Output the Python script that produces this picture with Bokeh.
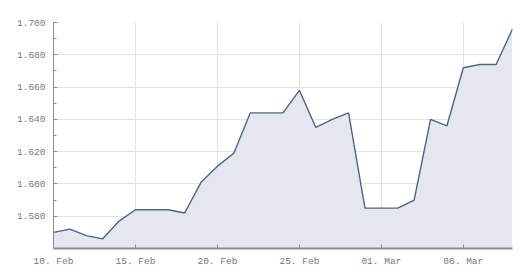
import pandas as pd
from bokeh.plotting import figure
from bokeh.models import FixedTicker, DatetimeTickFormatter, NumeralTickFormatter, Range1d
from bokeh.embed import file_html
from bokeh.resources import INLINE

# Daily closing rate, 10 Feb - 09 Mar 2012
dates = pd.date_range("2012-02-10", "2012-03-09", freq="D")
rates = [1.570, 1.572, 1.568, 1.566, 1.577, 1.584, 1.584, 1.584, 1.582, 1.601,
         1.611, 1.619, 1.644, 1.644, 1.644, 1.658, 1.635, 1.640, 1.644, 1.585,
         1.585, 1.585, 1.590, 1.640, 1.636, 1.672, 1.674, 1.674, 1.696]

tick_dates = ["2012-02-10", "2012-02-15", "2012-02-20", "2012-02-25", "2012-03-01", "2012-03-06"]
y_ticks = [1.580, 1.600, 1.620, 1.640, 1.660, 1.680, 1.700]
y_min, y_max = 1.560, 1.700

label_font = "Liberation Mono"
grid_color = "#e3e3e3"
axis_color = "#8c8c8c"

p = figure(width=524, height=277, x_axis_type="datetime",
           output_backend="svg", toolbar_location=None,
           min_border_left=53, min_border_right=12, min_border_top=22, min_border_bottom=29)
p.outline_line_color = None
p.background_fill_color = "white"

p.x_range = Range1d(dates[0], dates[-1])
p.y_range = Range1d(y_min, y_max)

p.varea(x=dates, y1=y_min, y2=rates, fill_color="#e4e8ee", fill_alpha=1.0)
p.line(x=dates, y=rates, line_color="#4a6585", line_width=1.4)

tick_ms = [pd.Timestamp(d).value / 1e6 for d in tick_dates]
p.xaxis.ticker = FixedTicker(ticks=tick_ms)
fmt = "%d. %b"
p.xaxis.formatter = DatetimeTickFormatter(days=fmt, months=fmt, hours=fmt, years=fmt)
p.yaxis.ticker = FixedTicker(ticks=y_ticks,
                             minor_ticks=[round(1.560 + 0.01 * i, 3) for i in range(15)])
p.yaxis.formatter = NumeralTickFormatter(format="0.000")

for ax in (p.xaxis, p.yaxis):
    ax.major_label_text_font = label_font
    ax.major_label_text_font_size = "9.5px"
    ax.major_label_text_color = "#777777"
    ax.major_tick_out = 0
    ax.major_tick_in = 4
    ax.minor_tick_out = 0
    ax.axis_line_color = axis_color
    ax.major_tick_line_color = axis_color

p.yaxis.minor_tick_in = 3
p.yaxis.minor_tick_line_color = axis_color
p.xaxis.minor_tick_line_color = None
p.xaxis.axis_line_width = 2
p.yaxis.axis_line_width = 1
p.xaxis.major_label_standoff = 7
p.yaxis.major_label_standoff = 8

p.xgrid.grid_line_color = grid_color
p.ygrid.grid_line_color = grid_color
p.xgrid.ticker = p.xaxis.ticker
p.ygrid.ticker = FixedTicker(ticks=y_ticks)

open("out.html", "w").write(file_html(p, INLINE))
